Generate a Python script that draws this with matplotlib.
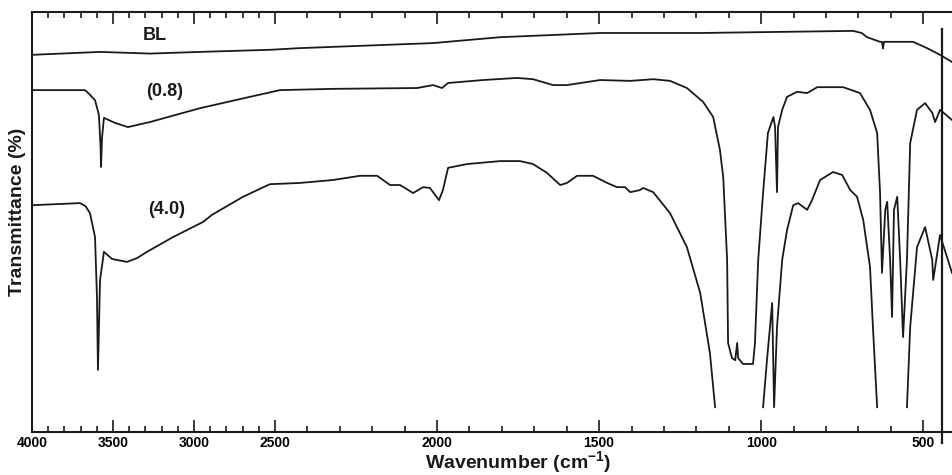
import numpy as np
import matplotlib
matplotlib.use("Agg")
import matplotlib.pyplot as plt
from matplotlib.ticker import FixedLocator

plt.rcParams['font.family'] = ['Liberation Sans', 'DejaVu Sans']
plt.rcParams['mathtext.fontset'] = 'custom'
plt.rcParams['mathtext.bf'] = 'Liberation Sans:bold'

nan = np.nan

# BL (baseline)
bl_w = [4000, 3580, 3272, 2963, 2532, 2423, 2012, 1806, 1497, 1188, 1003, 716, 690, 673, 633,
        627, 624, 621, 593, 531, 488, 448, 411]
bl_t = [89.8, 90.5, 90.1, 90.5, 91.0, 91.4, 92.6, 94.0, 95.0, 95.0, 95.2, 95.5, 95.0, 94.0, 92.9,
        92.9, 91.3, 92.9, 92.9, 92.9, 91.4, 89.8, 88.1]

# sample (0.8)
s08_w = [4000, 3673, 3650, 3611, 3587, 3577, 3574, 3568, 3556, 3488, 3408, 3272, 2963, 2655, 2485,
         2321, 2062, 2012, 1985, 1966, 1858, 1753, 1704, 1642, 1599, 1497, 1404, 1333, 1281,
         1229, 1179, 1148, 1127, 1117, 1105, 1102, 1090, 1080, 1074, 1071, 1056, 1025, 1019,
         1009, 994, 979, 962, 957, 951, 948, 935, 920, 889, 858, 827, 747, 695, 664, 642,
         633, 627, 617, 611, 602, 596, 590, 580, 571, 562, 550, 540, 519, 494, 472, 463,
         448, 411]
s08_t = [81.4, 81.4, 80.6, 79.0, 75.5, 68.0, 63.1, 70.0, 74.8, 73.6, 72.6, 73.8, 77.1, 79.8, 81.4,
         81.7, 81.9, 82.6, 81.9, 83.1, 83.8, 84.3, 84.0, 82.6, 82.6, 83.8, 83.6, 84.0, 83.6,
         81.9, 78.6, 75.0, 67.1, 60.7, 41.0, 21.2, 17.6, 17.1, 21.2, 17.6, 16.2, 16.2, 21.2,
         41.0, 56.9, 71.2, 75.0, 72.6, 57.1, 72.6, 76.7, 79.8, 81.0, 80.7, 82.1, 82.1, 80.7,
         76.7, 71.2, 56.9, 37.9, 52.9, 54.8, 41.0, 27.4, 52.9, 56.0, 41.0, 22.6, 41.0, 68.8,
         76.7, 78.3, 76.0, 73.8, 76.7, 74.3]

# sample (4.0), nan where the pen runs off scale
s40_w = [4000, 3704, 3670, 3642, 3611, 3599, 3593, 3580, 3556, 3506, 3414, 3352, 3290, 3130, 2945,
         2889, 2698, 2532, 2423, 2321, 2238, 2185, 2145, 2114, 2074, 2043, 2022, 1994, 1982,
         1966, 1907, 1806, 1744, 1704, 1661, 1620, 1599, 1568, 1519, 1475, 1445, 1420, 1404,
         1374, 1364, 1333, 1281, 1229, 1188, 1158, 1142, 1070, 994, 982, 966, 960, 951, 935,
         920, 901, 886, 858, 843, 818, 778, 750, 725, 704, 685, 664, 655, 642, 600, 550, 540,
         519, 494, 472, 469, 448, 411]
s40_t = [54.0, 54.5, 53.8, 52.1, 46.4, 32.1, 14.8, 36.2, 42.9, 41.2, 40.5, 41.4, 42.9, 46.4, 50.0,
         51.7, 56.0, 59.0, 59.3, 60.0, 61.0, 61.0, 58.8, 58.8, 56.9, 58.3, 58.1, 55.2, 57.6,
         62.9, 63.8, 64.5, 64.5, 63.8, 61.7, 58.8, 59.3, 61.0, 61.0, 59.3, 58.3, 58.3, 57.1,
         57.6, 58.1, 57.1, 52.1, 44.0, 33.1, 18.8, 5.9, nan, 5.9, 17.1, 30.7, 5.9, 25.0, 41.0,
         48.1, 54.0, 54.5, 52.9, 55.2, 60.0, 61.9, 61.2, 57.6, 56.0, 50.5, 39.3, 25.0, 5.9, nan,
         5.9, 25.0, 44.0, 48.8, 41.0, 36.2, 46.9, 37.9]

labels = ["BL", "(0.8)", "(4.0)"]
label_w = [3241, 3179, 3167]
label_t = [94.5, 81.0, 52.9]


# IR chart paper: scale doubles below 2500 cm-1
def fwd(w):
    w = np.asarray(w, dtype=float)
    return np.where(w >= 2500, w / 2 + 1250, w)


def inv(x):
    x = np.asarray(x, dtype=float)
    return np.where(x >= 2500, 2 * (x - 1250), x)


fig = plt.figure(figsize=(9.52, 4.75), dpi=100)
ax = fig.add_axes([32 / 952, 43 / 475, 1 - 32 / 952, 420 / 475])
ax.set_xscale('function', functions=(fwd, inv))

ink = '#1a1a1a'
for w, t in [(bl_w, bl_t), (s08_w, s08_t), (s40_w, s40_t)]:
    ax.plot(w, t, color=ink, lw=1.3, solid_joinstyle='round')

for s, w, t in zip(labels, label_w, label_t):
    ax.text(w, t, s, ha='center', va='center', fontsize=13, fontweight='bold', color=ink)

ax.set_xlim(4000, 411)
ax.set_ylim(0, 100)

ax.axvline(442, ymin=-0.026, ymax=0.96, color=ink, lw=1.6, clip_on=False)

ax.xaxis.set_major_locator(FixedLocator(np.arange(500, 4001, 500)))
ax.xaxis.set_minor_locator(FixedLocator(np.arange(500, 4001, 100)))
ax.tick_params(axis='x', which='both', direction='in', top=True, bottom=True,
               width=1.2, color=ink, pad=3, labelsize=10)
ax.tick_params(axis='x', which='major', length=8.5)
ax.tick_params(axis='x', which='minor', length=4.5)
for lab in ax.get_xticklabels():
    lab.set_fontweight('bold')
ax.set_yticks([])

ax.spines['right'].set_visible(False)
for side in ['left', 'top', 'bottom']:
    ax.spines[side].set_linewidth(1.5)
    ax.spines[side].set_color(ink)

fig.text(518 / 952, 1 - 463 / 475, r'Wavenumber (cm$^{\mathbf{-1}}$)', ha='center', va='center',
         fontsize=14, fontweight='bold', color=ink)
fig.text(18 / 952, 1 - 212 / 475, 'Transmittance (%)', rotation=90, ha='center', va='center',
         fontsize=14, fontweight='bold', color=ink)

fig.savefig('out.png', dpi=100)
